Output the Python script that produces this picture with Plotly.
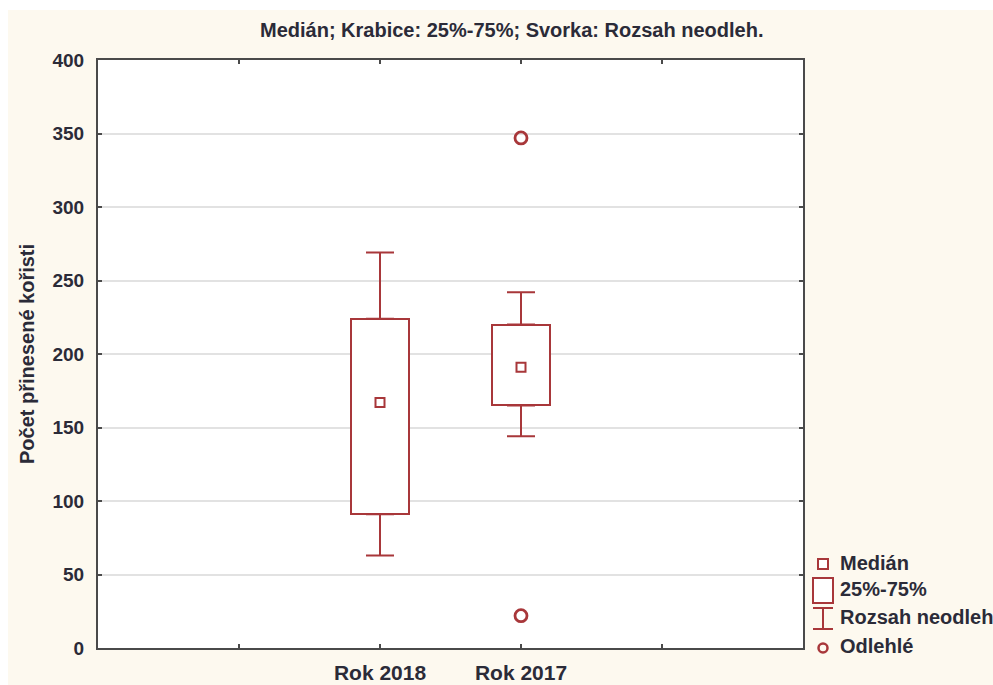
import plotly.graph_objects as go

# Box-plot summary for the number of prey items brought per year
categories = ["Rok 2018", "Rok 2017"]
whisker_low = [63, 144]
q1 = [91, 165]
median = [167, 191]
q3 = [224, 220]
whisker_high = [269, 242]
outlier_cat = ["Rok 2017", "Rok 2017"]
outlier_val = [347, 22]

y_ticks = [0, 50, 100, 150, 200, 250, 300, 350, 400]

RED = "#A8373A"
TXT = "#2B2B38"
FONT = "Liberation Sans"
CREAM = "#FDF9EF"

# four slots on the x axis, the two years sit in the middle ones
slot_labels = [""] + categories + [""]
pos = {c: slot_labels.index(c) + 1 for c in categories}
xs = [pos[c] for c in categories]
ox = [pos[c] for c in outlier_cat]

W, H = 993, 685
L, R, T, B = 98, 803, 60, 648


def px(x):
    return (x - L) / (R - L)


def py(y):
    return (B - y) / (B - T)


fig = go.Figure()

# upper whiskers: from Q3 up to the max non-outlier
fig.add_trace(go.Scatter(
    x=xs, y=q3, mode="markers", marker=dict(size=1, opacity=0),
    error_y=dict(type="data", symmetric=False,
                 array=[h - q for h, q in zip(whisker_high, q3)],
                 arrayminus=[0] * len(xs), color=RED, thickness=2, width=14),
    showlegend=False, hoverinfo="skip"))
# lower whiskers: from Q1 down to the min non-outlier
fig.add_trace(go.Scatter(
    x=xs, y=q1, mode="markers", marker=dict(size=1, opacity=0),
    error_y=dict(type="data", symmetric=False,
                 array=[0] * len(xs),
                 arrayminus=[q - l for q, l in zip(q1, whisker_low)],
                 color=RED, thickness=2, width=14),
    showlegend=False, hoverinfo="skip"))

# 25%-75% boxes
fig.add_trace(go.Bar(
    x=xs, y=[b - a for a, b in zip(q1, q3)], base=q1, width=0.41,
    marker=dict(color="white", line=dict(color=RED, width=2)),
    showlegend=False, hoverinfo="skip"))

# medians
fig.add_trace(go.Scatter(
    x=xs, y=median, mode="markers",
    marker=dict(symbol="square-open", size=9, color=RED, line=dict(width=2)),
    showlegend=False))

# outliers
fig.add_trace(go.Scatter(
    x=ox, y=outlier_val, mode="markers",
    marker=dict(symbol="circle-open", size=12, color=RED, line=dict(width=2.8)),
    showlegend=False))

# thin white strips along the top and left page edges
shapes = [
    dict(type="rect", xref="paper", yref="paper",
         x0=px(-5), x1=px(8), y0=py(H + 5), y1=py(-5),
         fillcolor="white", line=dict(width=0)),
    dict(type="rect", xref="paper", yref="paper",
         x0=px(-5), x1=px(W + 5), y0=py(10), y1=py(-5),
         fillcolor="white", line=dict(width=0)),
]

# legend symbols
lx = 823
shapes += [
    dict(type="rect", xref="paper", yref="paper",
         x0=px(lx - 5), x1=px(lx + 5), y0=py(569), y1=py(559),
         line=dict(color=RED, width=2), fillcolor="white"),
    dict(type="rect", xref="paper", yref="paper",
         x0=px(lx - 10), x1=px(lx + 10), y0=py(603), y1=py(578),
         line=dict(color=RED, width=2), fillcolor="white"),
    dict(type="line", xref="paper", yref="paper",
         x0=px(lx - 10), x1=px(lx + 10), y0=py(608), y1=py(608),
         line=dict(color=RED, width=2)),
    dict(type="line", xref="paper", yref="paper",
         x0=px(lx), x1=px(lx), y0=py(608), y1=py(629),
         line=dict(color=RED, width=2)),
    dict(type="line", xref="paper", yref="paper",
         x0=px(lx - 10), x1=px(lx + 10), y0=py(629), y1=py(629),
         line=dict(color=RED, width=2)),
    dict(type="circle", xref="paper", yref="paper",
         x0=px(lx - 4.5), x1=px(lx + 4.5), y0=py(652.5), y1=py(643.5),
         line=dict(color=RED, width=2.5)),
]

legend_items = [("Medián", 563), ("25%-75%", 589), ("Rozsah neodleh", 617), ("Odlehlé", 646)]
annotations = [
    dict(text=t, x=px(838), y=py(yy), xref="paper", yref="paper",
         xanchor="left", yanchor="middle", showarrow=False,
         font=dict(family=FONT, size=20, color=TXT, weight="bold"))
    for t, yy in legend_items
]
annotations += [
    dict(text="Medián; Krabice: 25%-75%; Svorka: Rozsah neodleh.",
         x=px(512), y=py(30), xref="paper", yref="paper",
         xanchor="center", yanchor="middle", showarrow=False,
         font=dict(family=FONT, size=20, color=TXT, weight="bold")),
    dict(text="Počet přinesené kořisti", textangle=-90,
         x=px(27), y=py(354), xref="paper", yref="paper",
         xanchor="center", yanchor="middle", showarrow=False,
         font=dict(family=FONT, size=20, color=TXT, weight="bold")),
]

fig.update_layout(
    width=W, height=H,
    margin=dict(l=L, r=W - R, t=T, b=H - B, pad=0),
    paper_bgcolor=CREAM, plot_bgcolor="white",
    shapes=shapes, annotations=annotations,
    showlegend=False, bargap=0,
)
fig.update_xaxes(
    range=[0, len(slot_labels) + 1], automargin=False,
    tickvals=list(range(1, len(slot_labels) + 1)), ticktext=slot_labels,
    showgrid=False, zeroline=False,
    showline=True, linecolor="#4A4A4A", linewidth=2, mirror="ticks",
    ticks="inside", ticklen=4, tickcolor="#4A4A4A", tickwidth=1.5,
    ticklabelstandoff=5,
    tickfont=dict(family=FONT, size=21, color=TXT, weight="bold"),
)
fig.update_yaxes(
    range=[0, 400], tickvals=y_ticks, automargin=False,
    showgrid=True, gridcolor="#E2E2E2", gridwidth=1.5, zeroline=False,
    showline=True, linecolor="#4A4A4A", linewidth=2, mirror="ticks",
    ticks="inside", ticklen=4, tickcolor="#4A4A4A", tickwidth=1.5,
    ticklabelstandoff=8,
    tickfont=dict(family=FONT, size=19, color=TXT, weight="bold"),
)

fig.write_html("out.html")
